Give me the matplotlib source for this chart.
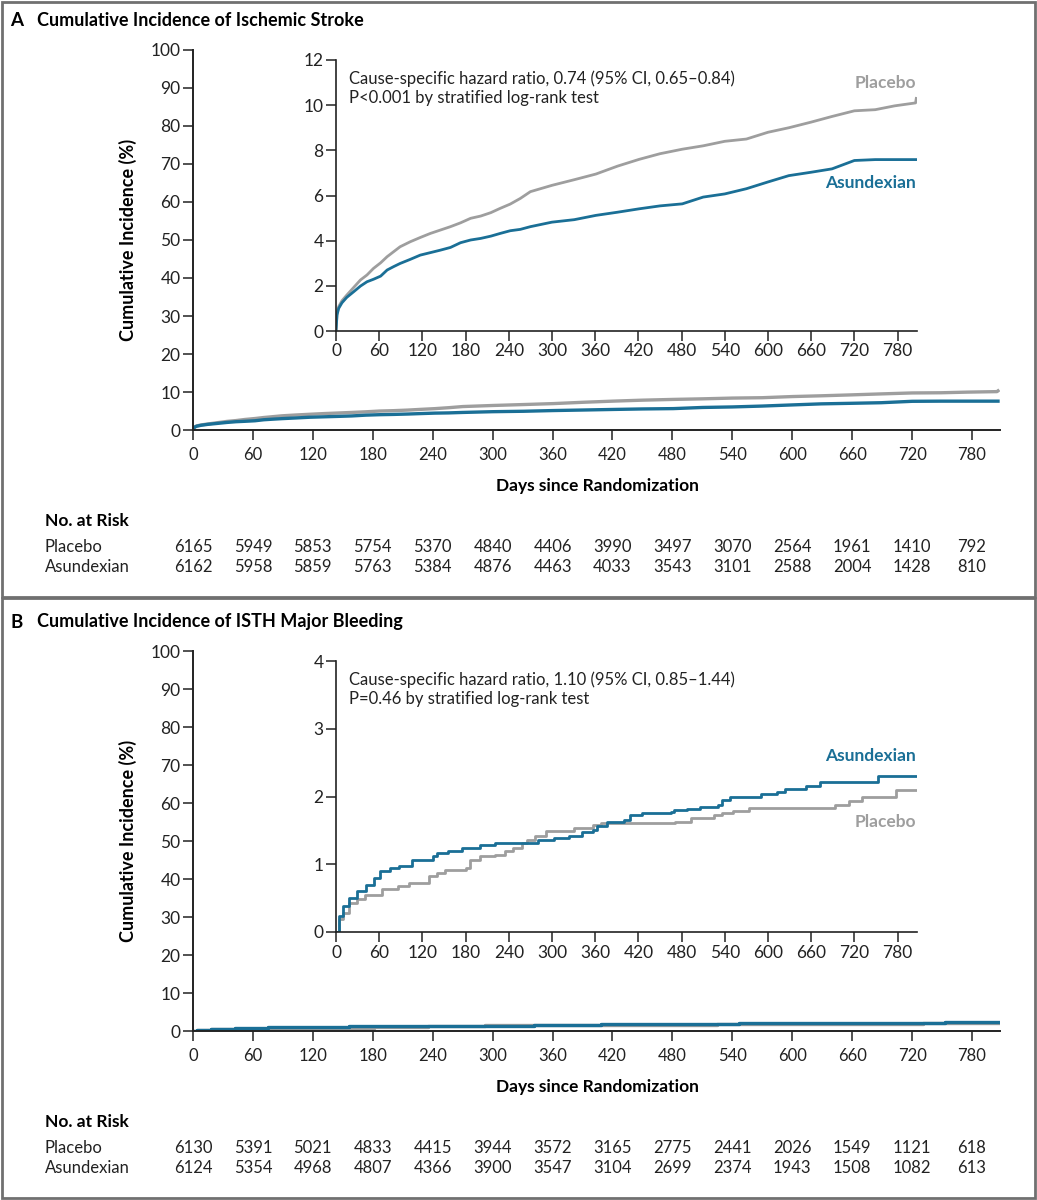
import matplotlib
matplotlib.use("Agg")
import matplotlib.pyplot as plt
import numpy as np
from matplotlib.patches import Rectangle

plt.rcParams['font.family'] = ['Lato', 'DejaVu Sans']

# colours
blue = '#1a6f96'
grey = '#9e9e9e'

# panel A: ischemic stroke, cumulative incidence (%)
a_days = [0, 1.4, 3.7, 8.3, 15, 24.6, 34, 43, 52, 62, 71, 80, 89, 103, 117, 131, 145, 159, 173,
          187, 201, 215, 228, 242, 256, 270, 300, 331, 361, 391, 421, 450, 481, 510, 540, 570,
          600, 629, 660, 689, 720, 749, 776, 805, 806]
a_placebo = [0, 0.78, 1.08, 1.34, 1.59, 1.93, 2.26, 2.48, 2.77, 3.02, 3.29, 3.51, 3.73, 3.95, 4.14,
             4.32, 4.47, 4.62, 4.79, 4.99, 5.09, 5.24, 5.43, 5.62, 5.87, 6.17, 6.45, 6.7, 6.95,
             7.3, 7.6, 7.85, 8.05, 8.2, 8.4, 8.5, 8.8, 9.0, 9.25, 9.5, 9.75, 9.8, 9.97, 10.1, 10.3]
a_asund = [0, 0.71, 1.0, 1.25, 1.49, 1.74, 1.99, 2.18, 2.29, 2.43, 2.7, 2.85, 2.99, 3.17, 3.36,
           3.47, 3.58, 3.7, 3.91, 4.03, 4.1, 4.2, 4.32, 4.44, 4.5, 4.62, 4.82, 4.93, 5.12,
           5.26, 5.41, 5.54, 5.63, 5.93, 6.07, 6.3, 6.6, 6.88, 7.03, 7.18, 7.55, 7.59, 7.59, 7.59, 7.59]

# panel B: ISTH major bleeding
b_asund_days = [0, 4, 10, 18, 29, 42, 53, 61, 75, 88, 105, 135, 140, 156, 175, 200, 221, 259, 281,
                303, 324, 341, 357, 362, 376, 400, 409, 425, 465, 470, 487, 506, 531, 536, 547,
                590, 612, 623, 653, 672, 753, 808]
b_asund = [0, 0.24, 0.38, 0.5, 0.6, 0.7, 0.8, 0.9, 0.95, 0.98, 1.07, 1.12, 1.17, 1.2, 1.24, 1.28, 1.31,
           1.31, 1.36, 1.39, 1.42, 1.47, 1.51, 1.57, 1.63, 1.66, 1.72, 1.75, 1.77, 1.8, 1.81, 1.85, 1.88,
           1.95, 2.0, 2.04, 2.07, 2.11, 2.16, 2.21, 2.3, 2.3]
b_plac_days = [0, 4, 10, 18, 29, 40, 64, 86, 102, 129, 140, 151, 181, 186, 200, 221, 235, 246, 259,
               265, 276, 292, 324, 330, 357, 368, 471, 493, 525, 536, 552, 574, 693, 712, 731, 778, 808]
b_placebo = [0, 0.19, 0.28, 0.43, 0.49, 0.55, 0.64, 0.68, 0.73, 0.82, 0.87, 0.92, 0.95, 1.07, 1.12,
             1.14, 1.19, 1.24, 1.31, 1.36, 1.41, 1.49, 1.49, 1.53, 1.58, 1.61, 1.63, 1.68, 1.73, 1.76,
             1.79, 1.83, 1.88, 1.93, 1.99, 2.1, 2.1]

# numbers at risk
risk_days = [0, 60, 120, 180, 240, 300, 360, 420, 480, 540, 600, 660, 720, 780]
a_risk_placebo = [6165, 5949, 5853, 5754, 5370, 4840, 4406, 3990, 3497, 3070, 2564, 1961, 1410, 792]
a_risk_asund = [6162, 5958, 5859, 5763, 5384, 4876, 4463, 4033, 3543, 3101, 2588, 2004, 1428, 810]
b_risk_placebo = [6130, 5391, 5021, 4833, 4415, 3944, 3572, 3165, 2775, 2441, 2026, 1549, 1121, 618]
b_risk_asund = [6124, 5354, 4968, 4807, 4366, 3900, 3547, 3104, 2699, 2374, 1943, 1508, 1082, 613]

W, H = 1037, 1200
fig = plt.figure(figsize=(W / 100, H / 100), dpi=100)


def px_axes(x0, y0, x1, y1):
    return fig.add_axes([x0 / W, 1 - y1 / H, (x1 - x0) / W, (y1 - y0) / H])


def style(ax, lw=1.2):
    for s in ['top', 'right']:
        ax.spines[s].set_visible(False)
    for s in ['left', 'bottom']:
        ax.spines[s].set_linewidth(lw)
        ax.spines[s].set_color('#222222')
    ax.tick_params(length=7, width=1.1, labelsize=12.5, colors='#222222', pad=2)
    ax.set_facecolor('none')


# frames
fig.add_artist(Rectangle((2 / W, 1 - 597 / H), (W - 4) / W, 595 / H, transform=fig.transFigure,
                         fill=False, ec='#707070', lw=2))
fig.add_artist(Rectangle((2 / W, 2 / H), (W - 4) / W, (H - 600) / H, transform=fig.transFigure,
                         fill=False, ec='#707070', lw=2))

panels = [
    dict(top=0, title='Cumulative Incidence of Ischemic Stroke', letter='A',
         days_p=a_days, plac=a_placebo, days_a=a_days, asund=a_asund, steps=None,
         inset_max=12, inset_step=2,
         hr='Cause-specific hazard ratio, 0.74 (95% CI, 0.65\u20130.84)',
         pval='P<0.001 by stratified log-rank test',
         lab_p=11.0, lab_a=6.55, risk_p=a_risk_placebo, risk_a=a_risk_asund),
    dict(top=601, title='Cumulative Incidence of ISTH Major Bleeding', letter='B',
         days_p=b_plac_days, plac=b_placebo, days_a=b_asund_days, asund=b_asund, steps='steps-post',
         inset_max=4, inset_step=1,
         hr='Cause-specific hazard ratio, 1.10 (95% CI, 0.85\u20131.44)',
         pval='P=0.46 by stratified log-rank test',
         lab_p=1.62, lab_a=2.6, risk_p=b_risk_placebo, risk_a=b_risk_asund),
]

for p in panels:
    t = p['top']
    ds = p['steps'] or 'default'
    fig.text(10 / W, 1 - (t + 21) / H, p['letter'], fontsize=13.5, fontweight='bold', va='center')
    fig.text(37 / W, 1 - (t + 21) / H, p['title'], fontsize=13, fontweight='bold', va='center')

    # main axes
    ax = px_axes(193, t + 50, 1000, t + 430)
    style(ax, 1.4)
    ax.plot(p['days_p'], p['plac'], color=grey, lw=2.4, drawstyle=ds, solid_joinstyle='round')
    ax.plot(p['days_a'], p['asund'], color=blue, lw=2.4, drawstyle=ds, solid_joinstyle='round')
    ax.set_xlim(0, 808)
    ax.set_ylim(0, 100)
    ax.set_xticks(risk_days)
    ax.set_yticks(range(0, 101, 10))
    ax.tick_params(axis='x', labelsize=12, pad=5)
    fig.text(597 / W, 1 - (t + 486) / H, 'Days since Randomization', fontsize=12.5,
             fontweight='bold', ha='center', va='center')
    fig.text(128 / W, 1 - (t + 240) / H, 'Cumulative Incidence (%)', fontsize=13,
             fontweight='bold', ha='center', va='center', rotation=90)

    # inset
    ins = px_axes(336, t + 60, 917, t + 331)
    style(ins, 1.2)
    ins.plot(p['days_p'], p['plac'], color=grey, lw=2.0, drawstyle=ds)
    ins.plot(p['days_a'], p['asund'], color=blue, lw=2.0, drawstyle=ds)
    ins.set_xlim(0, 807)
    ins.set_ylim(0, p['inset_max'])
    ins.set_xticks(risk_days)
    ins.set_yticks(np.arange(0, p['inset_max'] + 1, p['inset_step']))
    ins.text(0.022, 0.96, p['hr'] + '\n' + p['pval'], transform=ins.transAxes, fontsize=12,
             va='top', ha='left', linespacing=1.2, color='#222222')
    ins.text(806, p['lab_p'], 'Placebo', color=grey, fontsize=12.5, fontweight='bold',
             ha='right', va='center')
    ins.text(806, p['lab_a'], 'Asundexian', color=blue, fontsize=12.5, fontweight='bold',
             ha='right', va='center')

    # numbers at risk
    fig.text(45 / W, 1 - (t + 521) / H, 'No. at Risk', fontsize=12.5, fontweight='bold', va='center')
    fig.text(45 / W, 1 - (t + 547) / H, 'Placebo', fontsize=12, va='center', color='#222222')
    fig.text(45 / W, 1 - (t + 567) / H, 'Asundexian', fontsize=12, va='center', color='#222222')
    tr = ax.get_xaxis_transform()
    for d, vp, va_ in zip(risk_days, p['risk_p'], p['risk_a']):
        ax.text(d, -(547 - 430) / 380, str(vp), transform=tr, ha='center', va='center',
                fontsize=12, clip_on=False, color='#222222')
        ax.text(d, -(567 - 430) / 380, str(va_), transform=tr, ha='center', va='center',
                fontsize=12, clip_on=False, color='#222222')

fig.savefig('out.png', dpi=100)
